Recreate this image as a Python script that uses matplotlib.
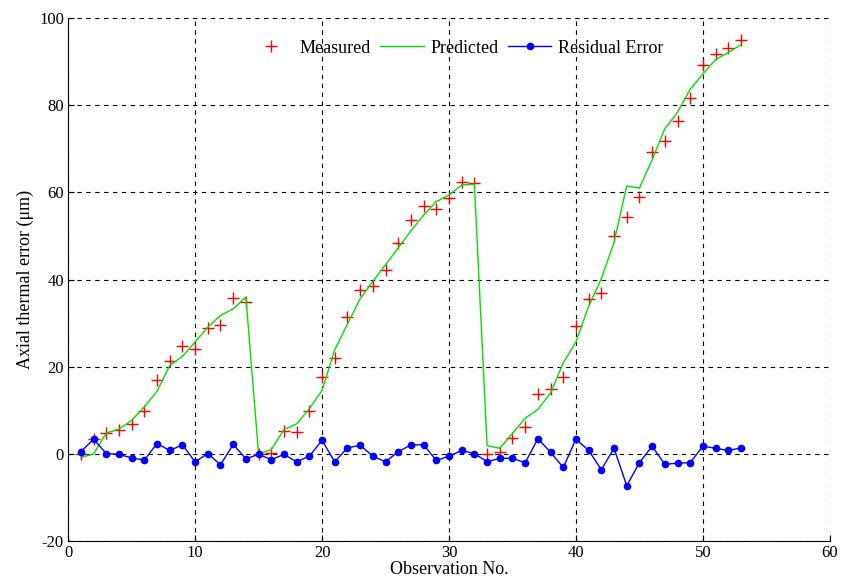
import numpy as np
import matplotlib
matplotlib.use('Agg')
import matplotlib.pyplot as plt

# observation numbers
obs = np.arange(1, 54)

# measured axial thermal error (um)
measured = [0.0, 3.4, 4.9, 5.6, 6.9, 9.8, 17.0, 21.3, 24.8, 24.1,
            29.0, 29.7, 35.8, 34.8, 0.0, 0.2, 5.2, 5.1, 9.8, 17.6,
            22.1, 31.4, 37.6, 38.6, 42.1, 48.4, 53.6, 56.9, 56.3, 58.7,
            62.3, 62.1, 0.1, 0.4, 3.6, 6.2, 13.7, 15.0, 17.7, 29.3,
            35.5, 36.9, 50.1, 54.3, 59.0, 69.2, 71.8, 76.5, 81.7, 89.2,
            91.8, 93.1, 94.9]

# model prediction
predicted = [-0.8, 0.0, 4.8, 5.7, 7.7, 10.8, 14.4, 20.3, 22.4, 25.7,
             29.1, 31.8, 33.3, 36.0, 0.0, 1.0, 5.6, 6.9, 10.4, 14.6,
             23.9, 29.8, 35.6, 39.6, 43.4, 47.3, 51.2, 54.8, 57.9, 59.4,
             61.7, 61.9, 1.9, 1.3, 4.7, 8.2, 10.2, 14.0, 20.9, 25.7,
             33.9, 40.2, 48.6, 61.5, 61.0, 67.5, 74.6, 78.4, 83.7, 87.2,
             90.5, 92.1, 93.9]

# residual error
residual = [0.5, 3.4, 0.1, -0.1, -0.9, -1.4, 2.4, 0.8, 2.1, -1.8,
            0.1, -2.5, 2.2, -1.1, -0.1, -1.3, -0.1, -1.8, -0.5, 3.1,
            -1.8, 1.4, 2.0, -0.5, -1.8, 0.5, 2.1, 2.1, -1.5, -0.5,
            0.8, 0.1, -1.8, -1.0, -1.0, -2.0, 3.5, 0.4, -3.1, 3.4,
            0.8, -3.6, 1.3, -7.3, -2.0, 1.8, -2.4, -2.1, -2.0, 1.8,
            1.3, 0.8, 1.4]

xticks = [0, 10, 20, 30, 40, 50, 60]
yticks = [-20, 0, 20, 40, 60, 80, 100]

plt.rcParams['font.family'] = ['Liberation Serif', 'DejaVu Serif']
plt.rcParams['font.size'] = 12
plt.rcParams['axes.unicode_minus'] = False

fig = plt.figure(figsize=(8.52, 5.85), dpi=100)
ax = fig.add_axes([0.080, 0.075, 0.894, 0.894])

ax.plot(obs, measured, linestyle='none', marker='+', color='red',
        markersize=8, markeredgewidth=1.0, label='Measured')
ax.plot(obs, predicted, color='#00e000', linewidth=1.0, label='Predicted')
ax.plot(obs, residual, color='blue', linewidth=1.0, marker='o',
        markersize=4.5, label='Residual Error')

ax.set_xlim(0, 60)
ax.set_ylim(-20, 100)
ax.set_xticks(xticks)
ax.set_yticks(yticks)
ax.grid(True, color='black', linestyle=(0, (4, 4)), linewidth=0.8)
ax.set_axisbelow(True)

ax.spines['top'].set_visible(False)
ax.spines['right'].set_visible(False)
ax.tick_params(direction='in', length=4, labelsize=12, pad=3)

ax.set_xlabel('Observation No.', fontsize=13, labelpad=0)
ax.set_ylabel('Axial thermal error (μm)', fontsize=13, labelpad=4)

ax.legend(loc='upper center', bbox_to_anchor=(0.51, 0.99), ncol=3,
          frameon=False, fontsize=13, handlelength=2.4, columnspacing=0.5,
          handletextpad=0.4)

fig.savefig('out.png', dpi=100)
